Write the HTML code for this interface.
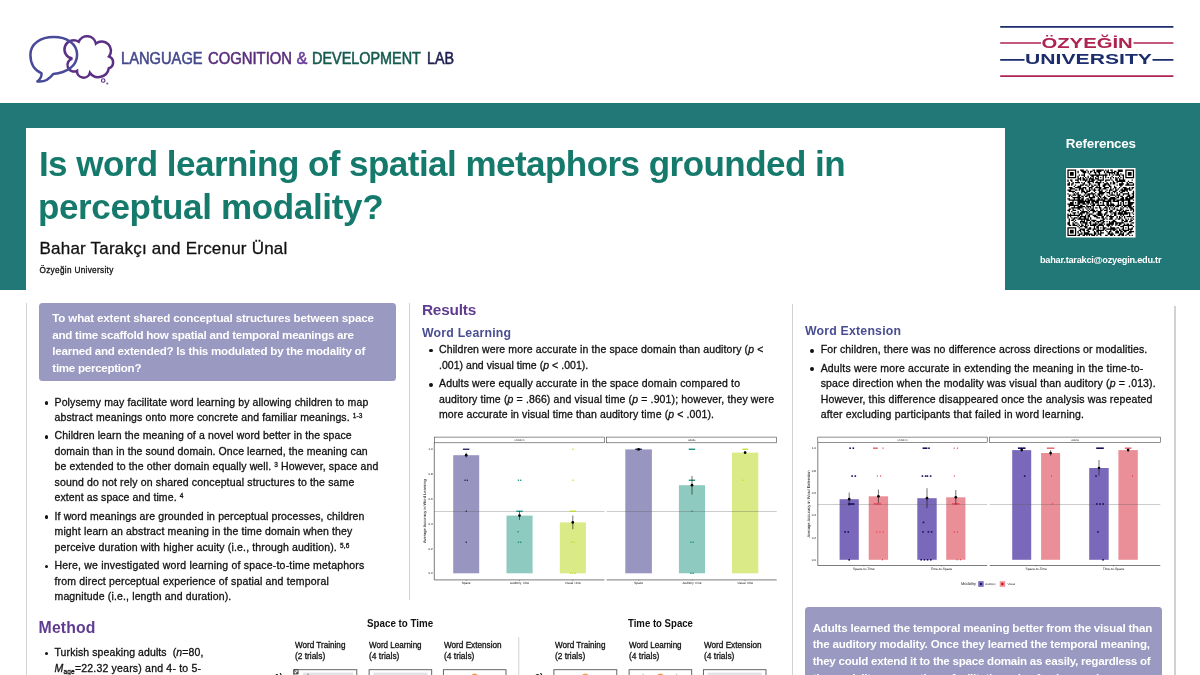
<!DOCTYPE html>
<html lang="en"><head><meta charset="utf-8"><title>Is word learning of spatial metaphors grounded in perceptual modality?</title>
<style>
html,body{margin:0;padding:0;background:#fff;}
body{width:1200px;height:675px;overflow:hidden;position:relative;font-family:"Liberation Sans",sans-serif;color:#111;}
.t{position:absolute;white-space:nowrap;margin:0;padding:0;}
.r{-webkit-text-stroke:0.3px currentColor;}
.sup{font-size:62%;position:relative;top:-0.42em;}
.sub{font-size:62%;position:relative;top:0.3em;}
.abs{position:absolute;}
#poster{position:absolute;left:0;top:0;width:1200px;height:675px;overflow:hidden;will-change:transform;}
</style></head>
<body>
<div id="poster">
<div class="abs" style="left:0;top:103px;width:1200px;height:187px;background:#217876"></div><div class="abs" style="left:25.8px;top:127.5px;width:979.5px;height:163px;background:#fff"></div><svg class="abs" style="left:0;top:0" width="130" height="100" viewBox="0 0 130 100"><path d="M72.4 58.6 A9.2 9.2 0 1 1 78.7 41.8 A9 9 0 0 1 95.9 43.6 A9.25 9.25 0 0 1 109 56.5 A6.25 6.25 0 0 1 108.8 68.3 A10.5 10.5 0 0 1 89.9 72.7 A6.55 6.55 0 0 1 77 70.8 A6.56 6.56 0 1 1 72.4 58.6 Z" fill="none" stroke="#5c2f86" stroke-width="2.5" stroke-linejoin="miter"/><circle cx="103.2" cy="80.5" r="1.75" fill="none" stroke="#5c2f86" stroke-width="1.15"/><circle cx="107.3" cy="83.5" r="1.1" fill="#5c2f86" fill-opacity="0.8"/><path d="M41.6 73.4 C33.6 69.8 30.4 62.5 30.4 54.7 C30.4 43.6 40.6 36.9 53.75 36.9 C66.9 36.9 77.1 43.6 77.1 54.7 C77.1 65.8 67 72.8 53.2 74 C49.3 79.2 45 82.6 37.3 81.4 C40.3 79.2 41.6 76.8 41.6 73.4 Z" fill="none" stroke="#4a4a9a" stroke-width="2.5" stroke-linejoin="round"/></svg><svg class="abs" style="left:990px;top:15px" width="200" height="75" viewBox="990 15 200 75"><line x1="1000.2" y1="26.9" x2="1173.4" y2="26.9" stroke="#1b2d6b" stroke-width="1.7"/><line x1="1000.2" y1="76.1" x2="1173.4" y2="76.1" stroke="#ae2350" stroke-width="1.7"/><path d="M1000.2 43H1041M1133.5 43H1173.4" stroke="#ae2350" stroke-width="1.7" fill="none"/><path d="M1000.2 59.8H1024.5M1152.5 59.8H1173.4" stroke="#1b2d6b" stroke-width="1.7" fill="none"/><text x="1041.4" y="48.1" font-family="Liberation Sans, sans-serif" font-weight="700" font-size="14" textLength="91.4" lengthAdjust="spacingAndGlyphs" fill="#ae2350">ÖZYEĞİN</text><text x="1025.1" y="64.4" font-family="Liberation Sans, sans-serif" font-weight="700" font-size="14.2" textLength="126.8" lengthAdjust="spacingAndGlyphs" fill="#1b2d6b">UNIVERSITY</text></svg><svg class="abs" style="left:1066.4px;top:168.4px" width="69.5" height="69.5" viewBox="0 0 69.5 69.5"><rect width="69.5" height="69.5" fill="#fff"/><g transform="translate(1.4,1.4) scale(1.2585)"><path d="M0 0h7v1h-7zM10 0h3v1h-3zM15 0h1v1h-1zM20 0h2v1h-2zM23 0h6v1h-6zM30 0h1v1h-1zM32 0h1v1h-1zM34 0h2v1h-2zM40 0h4v1h-4zM46 0h7v1h-7zM0 1h1v1h-1zM6 1h1v1h-1zM8 1h1v1h-1zM11 1h4v1h-4zM16 1h1v1h-1zM18 1h2v1h-2zM21 1h1v1h-1zM23 1h4v1h-4zM29 1h1v1h-1zM31 1h2v1h-2zM35 1h1v1h-1zM37 1h2v1h-2zM40 1h4v1h-4zM46 1h1v1h-1zM52 1h1v1h-1zM0 2h1v1h-1zM2 2h3v1h-3zM6 2h1v1h-1zM8 2h1v1h-1zM12 2h3v1h-3zM16 2h1v1h-1zM18 2h1v1h-1zM21 2h2v1h-2zM24 2h2v1h-2zM29 2h1v1h-1zM31 2h7v1h-7zM39 2h2v1h-2zM46 2h1v1h-1zM48 2h3v1h-3zM52 2h1v1h-1zM0 3h1v1h-1zM2 3h3v1h-3zM6 3h1v1h-1zM13 3h1v1h-1zM17 3h1v1h-1zM22 3h1v1h-1zM25 3h1v1h-1zM30 3h1v1h-1zM33 3h1v1h-1zM35 3h1v1h-1zM37 3h1v1h-1zM39 3h2v1h-2zM42 3h1v1h-1zM46 3h1v1h-1zM48 3h3v1h-3zM52 3h1v1h-1zM0 4h1v1h-1zM2 4h3v1h-3zM6 4h1v1h-1zM9 4h1v1h-1zM11 4h3v1h-3zM18 4h14v1h-14zM33 4h1v1h-1zM36 4h1v1h-1zM38 4h4v1h-4zM43 4h2v1h-2zM46 4h1v1h-1zM48 4h3v1h-3zM52 4h1v1h-1zM0 5h1v1h-1zM6 5h1v1h-1zM8 5h1v1h-1zM13 5h1v1h-1zM16 5h1v1h-1zM19 5h2v1h-2zM23 5h2v1h-2zM28 5h1v1h-1zM30 5h1v1h-1zM35 5h1v1h-1zM41 5h1v1h-1zM44 5h1v1h-1zM46 5h1v1h-1zM52 5h1v1h-1zM0 6h7v1h-7zM8 6h1v1h-1zM10 6h1v1h-1zM12 6h1v1h-1zM14 6h1v1h-1zM16 6h1v1h-1zM18 6h1v1h-1zM20 6h1v1h-1zM22 6h1v1h-1zM24 6h1v1h-1zM26 6h1v1h-1zM28 6h1v1h-1zM30 6h1v1h-1zM32 6h1v1h-1zM34 6h1v1h-1zM36 6h1v1h-1zM38 6h1v1h-1zM40 6h1v1h-1zM42 6h1v1h-1zM44 6h1v1h-1zM46 6h7v1h-7zM8 7h3v1h-3zM12 7h2v1h-2zM15 7h1v1h-1zM17 7h4v1h-4zM22 7h3v1h-3zM28 7h1v1h-1zM34 7h1v1h-1zM38 7h2v1h-2zM41 7h1v1h-1zM44 7h1v1h-1zM0 8h1v1h-1zM2 8h2v1h-2zM6 8h3v1h-3zM10 8h1v1h-1zM12 8h4v1h-4zM17 8h1v1h-1zM19 8h3v1h-3zM24 8h5v1h-5zM30 8h4v1h-4zM35 8h1v1h-1zM38 8h2v1h-2zM41 8h5v1h-5zM51 8h1v1h-1zM0 9h1v1h-1zM3 9h1v1h-1zM8 9h1v1h-1zM14 9h1v1h-1zM16 9h5v1h-5zM23 9h1v1h-1zM26 9h1v1h-1zM30 9h1v1h-1zM36 9h1v1h-1zM39 9h7v1h-7zM48 9h1v1h-1zM1 10h1v1h-1zM4 10h1v1h-1zM6 10h4v1h-4zM11 10h1v1h-1zM13 10h1v1h-1zM16 10h2v1h-2zM20 10h1v1h-1zM22 10h5v1h-5zM28 10h1v1h-1zM31 10h1v1h-1zM34 10h1v1h-1zM36 10h2v1h-2zM39 10h1v1h-1zM43 10h1v1h-1zM47 10h1v1h-1zM49 10h3v1h-3zM0 11h2v1h-2zM3 11h2v1h-2zM12 11h2v1h-2zM17 11h2v1h-2zM24 11h2v1h-2zM29 11h4v1h-4zM34 11h1v1h-1zM36 11h2v1h-2zM41 11h4v1h-4zM47 11h2v1h-2zM52 11h1v1h-1zM0 12h2v1h-2zM3 12h1v1h-1zM6 12h1v1h-1zM10 12h3v1h-3zM14 12h2v1h-2zM17 12h1v1h-1zM19 12h1v1h-1zM21 12h2v1h-2zM24 12h2v1h-2zM28 12h3v1h-3zM32 12h2v1h-2zM39 12h1v1h-1zM41 12h3v1h-3zM46 12h7v1h-7zM5 13h1v1h-1zM8 13h3v1h-3zM16 13h1v1h-1zM19 13h2v1h-2zM23 13h1v1h-1zM25 13h1v1h-1zM28 13h2v1h-2zM33 13h2v1h-2zM37 13h1v1h-1zM42 13h1v1h-1zM1 14h3v1h-3zM6 14h5v1h-5zM12 14h3v1h-3zM17 14h3v1h-3zM22 14h5v1h-5zM29 14h4v1h-4zM34 14h1v1h-1zM37 14h2v1h-2zM41 14h1v1h-1zM44 14h3v1h-3zM49 14h1v1h-1zM51 14h2v1h-2zM2 15h4v1h-4zM9 15h4v1h-4zM14 15h1v1h-1zM17 15h1v1h-1zM19 15h1v1h-1zM21 15h1v1h-1zM25 15h2v1h-2zM28 15h3v1h-3zM34 15h1v1h-1zM36 15h1v1h-1zM38 15h1v1h-1zM40 15h1v1h-1zM43 15h1v1h-1zM45 15h5v1h-5zM51 15h1v1h-1zM0 16h3v1h-3zM6 16h2v1h-2zM9 16h1v1h-1zM11 16h2v1h-2zM15 16h1v1h-1zM17 16h2v1h-2zM20 16h3v1h-3zM24 16h2v1h-2zM27 16h1v1h-1zM31 16h1v1h-1zM33 16h3v1h-3zM38 16h2v1h-2zM42 16h6v1h-6zM49 16h2v1h-2zM1 17h5v1h-5zM11 17h3v1h-3zM15 17h3v1h-3zM21 17h1v1h-1zM25 17h3v1h-3zM30 17h1v1h-1zM33 17h1v1h-1zM36 17h3v1h-3zM41 17h1v1h-1zM43 17h3v1h-3zM47 17h1v1h-1zM52 17h1v1h-1zM4 18h1v1h-1zM6 18h1v1h-1zM8 18h1v1h-1zM11 18h1v1h-1zM13 18h3v1h-3zM19 18h1v1h-1zM22 18h1v1h-1zM25 18h5v1h-5zM31 18h3v1h-3zM35 18h1v1h-1zM37 18h1v1h-1zM39 18h1v1h-1zM42 18h2v1h-2zM48 18h1v1h-1zM52 18h1v1h-1zM0 19h1v1h-1zM5 19h1v1h-1zM7 19h2v1h-2zM14 19h1v1h-1zM16 19h6v1h-6zM24 19h5v1h-5zM33 19h1v1h-1zM35 19h1v1h-1zM39 19h1v1h-1zM41 19h1v1h-1zM44 19h5v1h-5zM51 19h2v1h-2zM1 20h2v1h-2zM4 20h3v1h-3zM8 20h3v1h-3zM13 20h1v1h-1zM15 20h3v1h-3zM20 20h1v1h-1zM22 20h1v1h-1zM24 20h2v1h-2zM27 20h1v1h-1zM31 20h1v1h-1zM34 20h4v1h-4zM39 20h3v1h-3zM44 20h1v1h-1zM48 20h2v1h-2zM52 20h1v1h-1zM1 21h1v1h-1zM3 21h1v1h-1zM8 21h2v1h-2zM11 21h2v1h-2zM14 21h2v1h-2zM17 21h1v1h-1zM20 21h2v1h-2zM23 21h1v1h-1zM25 21h2v1h-2zM29 21h1v1h-1zM32 21h2v1h-2zM38 21h1v1h-1zM40 21h1v1h-1zM42 21h2v1h-2zM47 21h3v1h-3zM51 21h2v1h-2zM4 22h7v1h-7zM12 22h1v1h-1zM17 22h5v1h-5zM24 22h1v1h-1zM26 22h1v1h-1zM28 22h3v1h-3zM34 22h4v1h-4zM39 22h2v1h-2zM43 22h2v1h-2zM46 22h2v1h-2zM49 22h4v1h-4zM0 23h2v1h-2zM5 23h1v1h-1zM8 23h2v1h-2zM11 23h2v1h-2zM15 23h2v1h-2zM18 23h2v1h-2zM24 23h2v1h-2zM27 23h1v1h-1zM29 23h3v1h-3zM33 23h6v1h-6zM42 23h3v1h-3zM46 23h6v1h-6zM1 24h12v1h-12zM14 24h1v1h-1zM16 24h6v1h-6zM23 24h7v1h-7zM32 24h3v1h-3zM36 24h2v1h-2zM39 24h11v1h-11zM52 24h1v1h-1zM4 25h1v1h-1zM8 25h10v1h-10zM19 25h6v1h-6zM28 25h7v1h-7zM36 25h5v1h-5zM43 25h2v1h-2zM48 25h2v1h-2zM2 26h3v1h-3zM6 26h1v1h-1zM8 26h6v1h-6zM15 26h3v1h-3zM19 26h2v1h-2zM22 26h3v1h-3zM26 26h1v1h-1zM28 26h1v1h-1zM31 26h2v1h-2zM34 26h1v1h-1zM40 26h1v1h-1zM42 26h1v1h-1zM44 26h1v1h-1zM46 26h1v1h-1zM48 26h5v1h-5zM0 27h5v1h-5zM8 27h2v1h-2zM12 27h3v1h-3zM16 27h1v1h-1zM18 27h1v1h-1zM20 27h2v1h-2zM24 27h1v1h-1zM28 27h1v1h-1zM31 27h2v1h-2zM34 27h3v1h-3zM40 27h1v1h-1zM42 27h1v1h-1zM44 27h1v1h-1zM48 27h4v1h-4zM1 28h8v1h-8zM10 28h2v1h-2zM15 28h1v1h-1zM19 28h3v1h-3zM23 28h7v1h-7zM31 28h7v1h-7zM39 28h4v1h-4zM44 28h7v1h-7zM1 29h1v1h-1zM5 29h1v1h-1zM8 29h6v1h-6zM15 29h4v1h-4zM20 29h1v1h-1zM25 29h1v1h-1zM30 29h1v1h-1zM32 29h1v1h-1zM34 29h1v1h-1zM36 29h1v1h-1zM38 29h3v1h-3zM43 29h1v1h-1zM45 29h2v1h-2zM48 29h3v1h-3zM52 29h1v1h-1zM3 30h9v1h-9zM14 30h1v1h-1zM16 30h1v1h-1zM18 30h1v1h-1zM20 30h1v1h-1zM22 30h2v1h-2zM25 30h2v1h-2zM29 30h3v1h-3zM33 30h1v1h-1zM35 30h1v1h-1zM37 30h1v1h-1zM42 30h1v1h-1zM44 30h1v1h-1zM47 30h1v1h-1zM49 30h3v1h-3zM1 31h2v1h-2zM4 31h1v1h-1zM8 31h2v1h-2zM12 31h1v1h-1zM15 31h1v1h-1zM17 31h1v1h-1zM19 31h2v1h-2zM26 31h1v1h-1zM28 31h1v1h-1zM31 31h1v1h-1zM33 31h1v1h-1zM36 31h2v1h-2zM39 31h1v1h-1zM42 31h2v1h-2zM50 31h3v1h-3zM0 32h2v1h-2zM4 32h3v1h-3zM10 32h1v1h-1zM12 32h1v1h-1zM16 32h1v1h-1zM18 32h4v1h-4zM23 32h1v1h-1zM26 32h2v1h-2zM29 32h3v1h-3zM34 32h2v1h-2zM39 32h4v1h-4zM44 32h1v1h-1zM46 32h3v1h-3zM50 32h1v1h-1zM52 32h1v1h-1zM1 33h1v1h-1zM3 33h1v1h-1zM8 33h1v1h-1zM11 33h5v1h-5zM17 33h1v1h-1zM20 33h3v1h-3zM24 33h3v1h-3zM31 33h1v1h-1zM33 33h3v1h-3zM38 33h1v1h-1zM41 33h1v1h-1zM43 33h4v1h-4zM52 33h1v1h-1zM4 34h3v1h-3zM8 34h1v1h-1zM10 34h4v1h-4zM15 34h2v1h-2zM20 34h1v1h-1zM24 34h3v1h-3zM30 34h2v1h-2zM34 34h1v1h-1zM36 34h3v1h-3zM40 34h4v1h-4zM45 34h5v1h-5zM51 34h1v1h-1zM0 35h1v1h-1zM2 35h1v1h-1zM5 35h1v1h-1zM9 35h3v1h-3zM15 35h1v1h-1zM17 35h3v1h-3zM23 35h5v1h-5zM29 35h2v1h-2zM35 35h1v1h-1zM37 35h2v1h-2zM40 35h8v1h-8zM49 35h1v1h-1zM52 35h1v1h-1zM0 36h10v1h-10zM11 36h1v1h-1zM14 36h1v1h-1zM16 36h2v1h-2zM20 36h3v1h-3zM24 36h4v1h-4zM29 36h1v1h-1zM31 36h2v1h-2zM34 36h1v1h-1zM37 36h2v1h-2zM42 36h1v1h-1zM44 36h1v1h-1zM49 36h1v1h-1zM0 37h1v1h-1zM2 37h1v1h-1zM8 37h1v1h-1zM10 37h5v1h-5zM16 37h2v1h-2zM21 37h3v1h-3zM27 37h2v1h-2zM31 37h1v1h-1zM33 37h4v1h-4zM39 37h1v1h-1zM41 37h1v1h-1zM43 37h1v1h-1zM45 37h1v1h-1zM47 37h4v1h-4zM52 37h1v1h-1zM0 38h1v1h-1zM3 38h1v1h-1zM5 38h3v1h-3zM9 38h2v1h-2zM13 38h2v1h-2zM16 38h1v1h-1zM18 38h1v1h-1zM23 38h3v1h-3zM27 38h2v1h-2zM30 38h1v1h-1zM34 38h2v1h-2zM39 38h1v1h-1zM41 38h2v1h-2zM45 38h1v1h-1zM51 38h1v1h-1zM1 39h1v1h-1zM4 39h2v1h-2zM8 39h9v1h-9zM18 39h1v1h-1zM28 39h2v1h-2zM31 39h1v1h-1zM33 39h3v1h-3zM38 39h1v1h-1zM40 39h2v1h-2zM43 39h1v1h-1zM46 39h1v1h-1zM48 39h1v1h-1zM50 39h1v1h-1zM52 39h1v1h-1zM1 40h1v1h-1zM3 40h2v1h-2zM6 40h1v1h-1zM11 40h1v1h-1zM13 40h1v1h-1zM15 40h3v1h-3zM19 40h4v1h-4zM26 40h3v1h-3zM36 40h2v1h-2zM43 40h2v1h-2zM46 40h2v1h-2zM50 40h2v1h-2zM1 41h1v1h-1zM5 41h1v1h-1zM10 41h4v1h-4zM15 41h1v1h-1zM18 41h1v1h-1zM20 41h2v1h-2zM23 41h4v1h-4zM28 41h2v1h-2zM31 41h1v1h-1zM33 41h1v1h-1zM35 41h4v1h-4zM43 41h1v1h-1zM45 41h3v1h-3zM49 41h2v1h-2zM0 42h2v1h-2zM4 42h1v1h-1zM6 42h2v1h-2zM10 42h1v1h-1zM12 42h4v1h-4zM17 42h2v1h-2zM22 42h1v1h-1zM24 42h1v1h-1zM27 42h2v1h-2zM33 42h4v1h-4zM38 42h7v1h-7zM51 42h2v1h-2zM0 43h2v1h-2zM4 43h2v1h-2zM8 43h1v1h-1zM11 43h1v1h-1zM14 43h2v1h-2zM18 43h1v1h-1zM20 43h4v1h-4zM25 43h3v1h-3zM29 43h1v1h-1zM31 43h6v1h-6zM38 43h2v1h-2zM41 43h2v1h-2zM45 43h1v1h-1zM47 43h2v1h-2zM50 43h1v1h-1zM1 44h2v1h-2zM4 44h4v1h-4zM9 44h1v1h-1zM11 44h2v1h-2zM14 44h1v1h-1zM16 44h1v1h-1zM18 44h5v1h-5zM24 44h5v1h-5zM31 44h3v1h-3zM35 44h1v1h-1zM38 44h1v1h-1zM40 44h2v1h-2zM44 44h8v1h-8zM8 45h1v1h-1zM10 45h2v1h-2zM13 45h3v1h-3zM21 45h1v1h-1zM23 45h2v1h-2zM28 45h1v1h-1zM32 45h1v1h-1zM34 45h1v1h-1zM42 45h3v1h-3zM48 45h1v1h-1zM52 45h1v1h-1zM0 46h7v1h-7zM9 46h1v1h-1zM14 46h2v1h-2zM17 46h2v1h-2zM21 46h1v1h-1zM23 46h2v1h-2zM26 46h1v1h-1zM28 46h3v1h-3zM34 46h4v1h-4zM39 46h2v1h-2zM44 46h1v1h-1zM46 46h1v1h-1zM48 46h1v1h-1zM51 46h1v1h-1zM0 47h1v1h-1zM6 47h1v1h-1zM10 47h4v1h-4zM16 47h3v1h-3zM20 47h3v1h-3zM24 47h1v1h-1zM28 47h2v1h-2zM31 47h8v1h-8zM41 47h1v1h-1zM43 47h2v1h-2zM48 47h4v1h-4zM0 48h1v1h-1zM2 48h3v1h-3zM6 48h1v1h-1zM9 48h2v1h-2zM12 48h2v1h-2zM15 48h2v1h-2zM20 48h1v1h-1zM23 48h6v1h-6zM30 48h1v1h-1zM34 48h1v1h-1zM36 48h2v1h-2zM39 48h1v1h-1zM41 48h2v1h-2zM44 48h5v1h-5zM50 48h1v1h-1zM0 49h1v1h-1zM2 49h3v1h-3zM6 49h1v1h-1zM8 49h1v1h-1zM10 49h1v1h-1zM13 49h1v1h-1zM16 49h2v1h-2zM21 49h1v1h-1zM23 49h2v1h-2zM26 49h1v1h-1zM31 49h1v1h-1zM33 49h2v1h-2zM38 49h3v1h-3zM42 49h2v1h-2zM45 49h2v1h-2zM49 49h4v1h-4zM0 50h1v1h-1zM2 50h3v1h-3zM6 50h1v1h-1zM8 50h1v1h-1zM11 50h1v1h-1zM13 50h4v1h-4zM21 50h2v1h-2zM24 50h1v1h-1zM26 50h3v1h-3zM32 50h2v1h-2zM35 50h1v1h-1zM38 50h3v1h-3zM42 50h1v1h-1zM44 50h1v1h-1zM48 50h3v1h-3zM0 51h1v1h-1zM6 51h1v1h-1zM9 51h3v1h-3zM13 51h7v1h-7zM21 51h2v1h-2zM24 51h3v1h-3zM32 51h5v1h-5zM41 51h4v1h-4zM47 51h2v1h-2zM0 52h7v1h-7zM8 52h2v1h-2zM12 52h2v1h-2zM15 52h1v1h-1zM17 52h1v1h-1zM19 52h3v1h-3zM23 52h1v1h-1zM26 52h1v1h-1zM30 52h2v1h-2zM34 52h2v1h-2zM37 52h1v1h-1zM40 52h2v1h-2zM43 52h2v1h-2zM46 52h1v1h-1zM49 52h1v1h-1zM51 52h1v1h-1z" fill="#000"/></g></svg><div class="abs" style="left:25.75px;top:303px;width:1.3px;height:372px;background:#d2d2d2"></div><div class="abs" style="left:408.55px;top:303px;width:1.3px;height:297px;background:#d2d2d2"></div><div class="abs" style="left:791.85px;top:304px;width:1.3px;height:371px;background:#d2d2d2"></div><div class="abs" style="left:1174.25px;top:306px;width:1.3px;height:369px;background:#d2d2d2"></div><div class="abs" style="left:39px;top:303.3px;width:357px;height:77.8px;background:#9999c1;border-radius:3.5px"></div><div class="abs" style="left:805px;top:607.3px;width:356.7px;height:90px;background:#9999c1;border-radius:3.5px"></div><svg class="abs" style="left:418px;top:430px" width="372" height="162" viewBox="418 430 372 162" font-family="Liberation Sans, sans-serif" text-rendering="geometricPrecision"><rect x="434.3" y="437.1" width="170.1" height="5.7" fill="#fff" stroke="#333" stroke-width="0.55"/><text x="519.4" y="441" font-size="2.7" text-anchor="middle" fill="#222">Children</text><rect x="606.6" y="437.1" width="170.1" height="5.7" fill="#fff" stroke="#333" stroke-width="0.55"/><text x="691.7" y="441" font-size="2.7" text-anchor="middle" fill="#222">Adults</text><rect x="453.2" y="455.2" width="26.0" height="118.1" fill="#9896c0"/><rect x="506.5" y="515.6" width="26.1" height="57.7" fill="#8ecabf"/><rect x="559.8" y="522.4" width="26.1" height="50.9" fill="#d9ea86"/><rect x="625.3" y="449.4" width="26.6" height="123.9" fill="#9896c0"/><rect x="678.9" y="485.2" width="26.1" height="88.1" fill="#8ecabf"/><rect x="732.0" y="452.6" width="26.3" height="120.7" fill="#d9ea86"/><rect x="434.3" y="511" width="170.1" height="1" fill="#555" fill-opacity="0.3"/><rect x="606.6" y="511" width="170.1" height="1" fill="#555" fill-opacity="0.3"/><path d="M434.3 442.8V579.9H604.4M606.6 579.9H776.7" fill="none" stroke="#444" stroke-width="0.7"/><rect x="462.9" y="448.6" width="6.5" height="1.3" fill="#1c1a5c"/><rect x="464.4" y="479.6" width="1.3" height="1.3" fill="#1c1a5c"/><rect x="466.7" y="479.6" width="1.3" height="1.3" fill="#1c1a5c"/><rect x="465.6" y="510.6" width="1.3" height="1.3" fill="#1c1a5c"/><rect x="465.6" y="541.6" width="1.3" height="1.3" fill="#1c1a5c"/><rect x="517.8" y="479.6" width="1.3" height="1.3" fill="#128a7a"/><rect x="520.0" y="479.6" width="1.3" height="1.3" fill="#128a7a"/><rect x="516.3" y="510.6" width="6.5" height="1.3" fill="#128a7a"/><rect x="517.4" y="531.1" width="1.3" height="1.3" fill="#128a7a"/><rect x="517.8" y="541.6" width="1.3" height="1.3" fill="#128a7a"/><rect x="520.0" y="541.6" width="1.3" height="1.3" fill="#128a7a"/><rect x="572.2" y="448.6" width="1.3" height="1.3" fill="#c4da2a"/><rect x="572.2" y="479.6" width="1.3" height="1.3" fill="#c4da2a"/><rect x="569.6" y="510.6" width="6.5" height="1.3" fill="#c4da2a"/><rect x="571.0" y="541.6" width="1.3" height="1.3" fill="#c4da2a"/><rect x="573.3" y="541.6" width="1.3" height="1.3" fill="#c4da2a"/><rect x="569.9" y="572.6" width="1.3" height="1.3" fill="#c4da2a"/><rect x="572.2" y="572.6" width="1.3" height="1.3" fill="#c4da2a"/><rect x="574.5" y="572.6" width="1.3" height="1.3" fill="#c4da2a"/><rect x="635.3" y="448.6" width="6.5" height="1.3" fill="#1c1a5c"/><rect x="688.7" y="448.6" width="6.5" height="1.3" fill="#128a7a"/><rect x="688.7" y="479.6" width="6.5" height="1.3" fill="#128a7a"/><rect x="691.3" y="510.6" width="1.3" height="1.3" fill="#128a7a"/><rect x="690.2" y="541.6" width="1.3" height="1.3" fill="#128a7a"/><rect x="692.5" y="541.6" width="1.3" height="1.3" fill="#128a7a"/><rect x="690.2" y="572.6" width="1.3" height="1.3" fill="#128a7a"/><rect x="692.5" y="572.6" width="1.3" height="1.3" fill="#128a7a"/><rect x="742.3" y="448.6" width="5.7" height="1.3" fill="#c4da2a"/><rect x="742.0" y="479.6" width="1.3" height="1.3" fill="#c4da2a"/><line x1="466.2" y1="452.7" x2="466.2" y2="457.6" stroke="#111" stroke-width="0.6"/><circle cx="466.2" cy="455.2" r="1.35" fill="#000"/><line x1="519.5" y1="511.2" x2="519.5" y2="519.9" stroke="#111" stroke-width="0.6"/><circle cx="519.5" cy="515.6" r="1.35" fill="#000"/><line x1="572.8" y1="515.6" x2="572.8" y2="529.2" stroke="#111" stroke-width="0.6"/><circle cx="572.8" cy="522.4" r="1.35" fill="#000"/><line x1="638.6" y1="449.0" x2="638.6" y2="449.9" stroke="#111" stroke-width="0.6"/><circle cx="638.6" cy="449.4" r="1.35" fill="#000"/><line x1="692.0" y1="475.9" x2="692.0" y2="494.5" stroke="#111" stroke-width="0.6"/><circle cx="692.0" cy="485.2" r="1.35" fill="#000"/><line x1="745.1" y1="451.1" x2="745.1" y2="454.0" stroke="#111" stroke-width="0.6"/><circle cx="745.1" cy="452.6" r="1.35" fill="#000"/><text x="432.6" y="574.3" font-size="3" text-anchor="end" fill="#111">0.0</text><text x="432.6" y="549.5" font-size="3" text-anchor="end" fill="#111">0.2</text><text x="432.6" y="524.7" font-size="3" text-anchor="end" fill="#111">0.4</text><text x="432.6" y="499.8" font-size="3" text-anchor="end" fill="#111">0.6</text><text x="432.6" y="475.0" font-size="3" text-anchor="end" fill="#111">0.8</text><text x="432.6" y="450.2" font-size="3" text-anchor="end" fill="#111">1.0</text><line x1="466.2" y1="579.9" x2="466.2" y2="580.9" stroke="#333" stroke-width="0.4"/><text x="466.2" y="583.9" font-size="3.1" text-anchor="middle" fill="#111">Space</text><line x1="519.5" y1="579.9" x2="519.5" y2="580.9" stroke="#333" stroke-width="0.4"/><text x="519.5" y="583.9" font-size="3.1" text-anchor="middle" fill="#111">Auditory Time</text><line x1="572.8" y1="579.9" x2="572.8" y2="580.9" stroke="#333" stroke-width="0.4"/><text x="572.8" y="583.9" font-size="3.1" text-anchor="middle" fill="#111">Visual Time</text><line x1="638.6" y1="579.9" x2="638.6" y2="580.9" stroke="#333" stroke-width="0.4"/><text x="638.6" y="583.9" font-size="3.1" text-anchor="middle" fill="#111">Space</text><line x1="692.0" y1="579.9" x2="692.0" y2="580.9" stroke="#333" stroke-width="0.4"/><text x="692.0" y="583.9" font-size="3.1" text-anchor="middle" fill="#111">Auditory Time</text><line x1="745.1" y1="579.9" x2="745.1" y2="580.9" stroke="#333" stroke-width="0.4"/><text x="745.1" y="583.9" font-size="3.1" text-anchor="middle" fill="#111">Visual Time</text><text transform="translate(426 511.2) rotate(-90)" font-size="4" text-anchor="middle" fill="#000">Average Accuracy in Word Learning</text></svg><svg class="abs" style="left:798px;top:430px" width="374" height="165" viewBox="798 430 374 165" font-family="Liberation Sans, sans-serif" text-rendering="geometricPrecision"><rect x="817.8" y="437.1" width="169.4" height="5.3" fill="#fff" stroke="#333" stroke-width="0.55"/><text x="902.5" y="440.8" font-size="2.7" text-anchor="middle" fill="#222">Children</text><rect x="989.7" y="437.1" width="170.6" height="5.3" fill="#fff" stroke="#333" stroke-width="0.55"/><text x="1075.0" y="440.8" font-size="2.7" text-anchor="middle" fill="#222">Adults</text><rect x="839.6" y="499.2" width="19.2" height="60.6" fill="#7a69bb"/><rect x="868.7" y="496.3" width="19.4" height="63.5" fill="#ea8f97"/><rect x="917.3" y="498.2" width="19.4" height="61.6" fill="#7a69bb"/><rect x="946.2" y="497.3" width="19.2" height="62.5" fill="#ea8f97"/><rect x="1012.2" y="450.1" width="19.0" height="109.7" fill="#7a69bb"/><rect x="1041.1" y="453.0" width="19.0" height="106.8" fill="#ea8f97"/><rect x="1089.2" y="468.0" width="19.5" height="91.8" fill="#7a69bb"/><rect x="1118.4" y="450.1" width="19.4" height="109.7" fill="#ea8f97"/><rect x="817.8" y="504" width="169.4" height="1" fill="#555" fill-opacity="0.3"/><rect x="989.7" y="504" width="170.6" height="1" fill="#555" fill-opacity="0.3"/><path d="M817.8 442.4V565.5H987.2M989.7 565.5H1160.3" fill="none" stroke="#444" stroke-width="0.7"/><rect x="849.3" y="447.4" width="1.6" height="1.6" fill="#16105e"/><rect x="852.5" y="447.4" width="1.6" height="1.6" fill="#16105e"/><rect x="851.3" y="475.3" width="1.6" height="1.6" fill="#16105e"/><rect x="854.5" y="475.3" width="1.6" height="1.6" fill="#16105e"/><rect x="847.9" y="503.2" width="6.6" height="1.6" fill="#16105e"/><rect x="844.3" y="531.1" width="1.6" height="1.6" fill="#16105e"/><rect x="847.5" y="531.1" width="1.6" height="1.6" fill="#16105e"/><rect x="848.4" y="559.0" width="1.6" height="1.6" fill="#16105e"/><rect x="873.0" y="447.6" width="4.8" height="1.1" fill="#e0303c"/><rect x="882.4" y="447.6" width="1.1" height="1.1" fill="#e0303c"/><rect x="876.8" y="475.5" width="1.1" height="1.1" fill="#e0303c"/><rect x="880.0" y="475.5" width="1.1" height="1.1" fill="#e0303c"/><rect x="873.6" y="503.4" width="7.6" height="1.1" fill="#e0303c"/><rect x="876.2" y="531.4" width="1.1" height="1.1" fill="#e0303c"/><rect x="879.4" y="531.4" width="1.1" height="1.1" fill="#e0303c"/><rect x="882.6" y="531.4" width="1.1" height="1.1" fill="#e0303c"/><rect x="881.9" y="559.2" width="1.1" height="1.1" fill="#e0303c"/><rect x="922.6" y="447.4" width="4.8" height="1.6" fill="#16105e"/><rect x="928.2" y="447.4" width="1.6" height="1.6" fill="#16105e"/><rect x="921.6" y="475.3" width="1.6" height="1.6" fill="#16105e"/><rect x="924.8" y="475.3" width="1.6" height="1.6" fill="#16105e"/><rect x="926.6" y="475.3" width="1.6" height="1.6" fill="#16105e"/><rect x="929.8" y="475.3" width="1.6" height="1.6" fill="#16105e"/><rect x="922.7" y="521.6" width="1.6" height="1.6" fill="#16105e"/><rect x="922.2" y="531.1" width="1.6" height="1.6" fill="#16105e"/><rect x="927.6" y="531.1" width="1.6" height="1.6" fill="#16105e"/><rect x="930.8" y="531.1" width="1.6" height="1.6" fill="#16105e"/><rect x="920.4" y="559.0" width="1.6" height="1.6" fill="#16105e"/><rect x="923.6" y="559.0" width="1.6" height="1.6" fill="#16105e"/><rect x="926.8" y="559.0" width="1.6" height="1.6" fill="#16105e"/><rect x="930.0" y="559.0" width="1.6" height="1.6" fill="#16105e"/><rect x="953.6" y="447.6" width="1.1" height="1.1" fill="#e0303c"/><rect x="956.9" y="447.6" width="1.1" height="1.1" fill="#e0303c"/><rect x="953.8" y="475.5" width="1.1" height="1.1" fill="#e0303c"/><rect x="952.0" y="503.4" width="7.6" height="1.1" fill="#e0303c"/><rect x="953.6" y="531.4" width="1.1" height="1.1" fill="#e0303c"/><rect x="956.9" y="531.4" width="1.1" height="1.1" fill="#e0303c"/><rect x="956.6" y="559.2" width="1.1" height="1.1" fill="#e0303c"/><rect x="959.9" y="559.2" width="1.1" height="1.1" fill="#e0303c"/><rect x="1017.9" y="447.4" width="7.6" height="1.6" fill="#16105e"/><rect x="1023.9" y="475.3" width="1.6" height="1.6" fill="#16105e"/><rect x="1046.8" y="447.6" width="7.6" height="1.1" fill="#e0303c"/><rect x="1051.0" y="475.5" width="1.1" height="1.1" fill="#e0303c"/><rect x="1052.0" y="503.4" width="1.1" height="1.1" fill="#e0303c"/><rect x="1096.2" y="447.4" width="7.6" height="1.6" fill="#16105e"/><rect x="1095.2" y="475.3" width="1.6" height="1.6" fill="#16105e"/><rect x="1096.0" y="503.2" width="1.6" height="1.6" fill="#16105e"/><rect x="1099.2" y="503.2" width="1.6" height="1.6" fill="#16105e"/><rect x="1102.4" y="503.2" width="1.6" height="1.6" fill="#16105e"/><rect x="1097.2" y="531.1" width="1.6" height="1.6" fill="#16105e"/><rect x="1102.2" y="559.0" width="1.6" height="1.6" fill="#16105e"/><rect x="1124.8" y="447.6" width="6.6" height="1.1" fill="#e0303c"/><rect x="1132.0" y="475.5" width="1.1" height="1.1" fill="#e0303c"/><line x1="849.2" y1="492.5" x2="849.2" y2="505.9" stroke="#111" stroke-width="0.6"/><circle cx="849.2" cy="499.2" r="1.35" fill="#000"/><line x1="878.4" y1="489.6" x2="878.4" y2="503.0" stroke="#111" stroke-width="0.6"/><circle cx="878.4" cy="496.3" r="1.35" fill="#000"/><line x1="927.0" y1="488.2" x2="927.0" y2="508.2" stroke="#111" stroke-width="0.6"/><circle cx="927.0" cy="498.2" r="1.35" fill="#000"/><line x1="955.8" y1="490.0" x2="955.8" y2="504.6" stroke="#111" stroke-width="0.6"/><circle cx="955.8" cy="497.3" r="1.35" fill="#000"/><line x1="1021.7" y1="448.8" x2="1021.7" y2="451.4" stroke="#111" stroke-width="0.6"/><circle cx="1021.7" cy="450.1" r="1.35" fill="#000"/><line x1="1050.6" y1="450.2" x2="1050.6" y2="455.8" stroke="#111" stroke-width="0.6"/><circle cx="1050.6" cy="453.0" r="1.35" fill="#000"/><line x1="1099.0" y1="460.1" x2="1099.0" y2="475.8" stroke="#111" stroke-width="0.6"/><circle cx="1099.0" cy="468.0" r="1.35" fill="#000"/><line x1="1128.1" y1="448.8" x2="1128.1" y2="451.4" stroke="#111" stroke-width="0.6"/><circle cx="1128.1" cy="450.1" r="1.35" fill="#000"/><text x="816" y="560.8" font-size="3" text-anchor="end" fill="#111">0.0</text><text x="816" y="538.5" font-size="3" text-anchor="end" fill="#111">0.2</text><text x="816" y="516.2" font-size="3" text-anchor="end" fill="#111">0.4</text><text x="816" y="493.8" font-size="3" text-anchor="end" fill="#111">0.6</text><text x="816" y="471.5" font-size="3" text-anchor="end" fill="#111">0.8</text><text x="816" y="449.2" font-size="3" text-anchor="end" fill="#111">1.0</text><line x1="863.8" y1="565.5" x2="863.8" y2="566.5" stroke="#333" stroke-width="0.4"/><text x="863.8" y="569.5" font-size="3.3" text-anchor="middle" fill="#111">Space-to-Time</text><line x1="941.4" y1="565.5" x2="941.4" y2="566.5" stroke="#333" stroke-width="0.4"/><text x="941.4" y="569.5" font-size="3.3" text-anchor="middle" fill="#111">Time-to-Space</text><line x1="1036.2" y1="565.5" x2="1036.2" y2="566.5" stroke="#333" stroke-width="0.4"/><text x="1036.2" y="569.5" font-size="3.3" text-anchor="middle" fill="#111">Space-to-Time</text><line x1="1113.5" y1="565.5" x2="1113.5" y2="566.5" stroke="#333" stroke-width="0.4"/><text x="1113.5" y="569.5" font-size="3.3" text-anchor="middle" fill="#111">Time-to-Space</text><text transform="translate(809.6 504.0) rotate(-90)" font-size="4.1" text-anchor="middle" fill="#000">Average Accuracy in Word Extension</text><text x="961" y="585.4" font-size="4" fill="#222">Modality</text><rect x="978.2" y="581.2" width="5.5" height="5.6" fill="#7a69bb"/><rect x="980" y="583.1" width="1.8" height="1.8" fill="#0a0840"/><text x="985.3" y="585" font-size="2.8" fill="#222">Auditory</text><rect x="999.7" y="581.2" width="5.5" height="5.6" fill="#ea8f97"/><circle cx="1002.4" cy="584" r="1.2" fill="#c4101c"/><text x="1007.5" y="585" font-size="2.8" fill="#222">Visual</text></svg><svg class="abs" style="left:260px;top:630px" width="540" height="45" viewBox="260 630 540 45"><line x1="518.8" y1="637" x2="518.8" y2="675" stroke="#c8c8c8" stroke-width="0.8"/><rect x="293.9" y="669.7" width="62.9" height="12" fill="#fff" stroke="#555" stroke-width="0.9"/><rect x="302.9" y="672.6" width="50.4" height="6" fill="#e3e3e6"/><path d="M293.9 669.7h4.2v4.2h-4.2zM294.5 670.3l3 3M297.7 671.6v2h-2" fill="none" stroke="#222" stroke-width="0.7"/><rect x="307.4" y="673.6" width="1.2" height="1.5" fill="#888"/><rect x="369.1" y="669.7" width="62.6" height="12" fill="#fff" stroke="#555" stroke-width="0.9"/><rect x="373.40000000000003" y="672.6" width="54.0" height="6" fill="#e3e3e6"/><rect x="443.4" y="669.7" width="62.6" height="12" fill="#fff" stroke="#555" stroke-width="0.9"/><circle cx="474.7" cy="677" r="3.6" fill="#f0a050"/><rect x="553.9" y="669.7" width="62.9" height="12" fill="#fff" stroke="#555" stroke-width="0.9"/><circle cx="585.3" cy="677" r="3.6" fill="#f0a050"/><rect x="629.1" y="669.7" width="62.6" height="12" fill="#fff" stroke="#555" stroke-width="0.9"/><circle cx="660.4" cy="677" r="3.6" fill="#f0a050"/><rect x="642.4" y="673.8" width="1.2" height="1.4" fill="#bbb"/><rect x="676.0" y="673.8" width="1.2" height="1.4" fill="#bbb"/><rect x="703.4" y="669.7" width="62.6" height="12" fill="#fff" stroke="#555" stroke-width="0.9"/><rect x="707.6999999999999" y="672.6" width="54.0" height="6" fill="#e3e3e6"/></svg><div class="abs" style="left:44.50px;top:401.00px;width:3.8px;height:3.8px;border-radius:50%;background:#111"></div><div class="abs" style="left:44.50px;top:434.80px;width:3.8px;height:3.8px;border-radius:50%;background:#111"></div><div class="abs" style="left:44.50px;top:515.20px;width:3.8px;height:3.8px;border-radius:50%;background:#111"></div><div class="abs" style="left:44.50px;top:564.70px;width:3.8px;height:3.8px;border-radius:50%;background:#111"></div><div class="abs" style="left:44.50px;top:651.60px;width:3.8px;height:3.8px;border-radius:50%;background:#111"></div><div class="abs" style="left:429.00px;top:348.60px;width:3.8px;height:3.8px;border-radius:50%;background:#111"></div><div class="abs" style="left:429.00px;top:382.80px;width:3.8px;height:3.8px;border-radius:50%;background:#111"></div><div class="abs" style="left:810.30px;top:348.80px;width:3.8px;height:3.8px;border-radius:50%;background:#111"></div><div class="abs" style="left:810.30px;top:367.30px;width:3.8px;height:3.8px;border-radius:50%;background:#111"></div>
<div class="t" style="left:121.40px;top:49px;font-size:16.3px;line-height:18px;color:#45488c;transform:scaleX(0.9018);transform-origin:0 0;-webkit-text-stroke:0.55px currentColor;">LANGUAGE</div>
<div class="t" style="left:207.50px;top:49px;font-size:16.3px;line-height:18px;color:#5a2d7c;transform:scaleX(0.9104);transform-origin:0 0;-webkit-text-stroke:0.55px currentColor;">COGNITION</div>
<div class="t" style="left:296.60px;top:49px;font-size:16.3px;line-height:18px;color:#6a3fa0;-webkit-text-stroke:0.55px currentColor;">&amp;</div>
<div class="t" style="left:311.60px;top:49px;font-size:16.3px;line-height:18px;color:#155a4e;transform:scaleX(0.8850);transform-origin:0 0;-webkit-text-stroke:0.55px currentColor;">DEVELOPMENT</div>
<div class="t" style="left:426.50px;top:49px;font-size:16.3px;line-height:18px;color:#1f1f4f;transform:scaleX(0.8772);transform-origin:0 0;-webkit-text-stroke:0.55px currentColor;">LAB</div>
<div class="t" style="left:38.90px;top:144px;font-size:35px;line-height:39px;font-weight:700;color:#157a6c;letter-spacing:-0.534px;">Is word learning of spatial metaphors grounded in</div>
<div class="t" style="left:37.90px;top:187px;font-size:35px;line-height:39px;font-weight:700;color:#157a6c;letter-spacing:-0.333px;">perceptual modality?</div>
<div class="t r" style="left:39.50px;top:239px;font-size:17px;line-height:19px;letter-spacing:0.213px;">Bahar Tarakçı and Ercenur Ünal</div>
<div class="t r" style="left:39.50px;top:266px;font-size:8.2px;line-height:9px;letter-spacing:0.326px;">Özyeğin University</div>
<div class="t" style="left:1065.80px;top:136px;font-size:13.4px;line-height:15px;font-weight:700;color:#fff;letter-spacing:-0.224px;">References</div>
<div class="t" style="left:1040.00px;top:255px;font-size:9.2px;line-height:10px;font-weight:700;color:#fff;letter-spacing:-0.238px;">bahar.tarakci@ozyegin.edu.tr</div>
<div class="t" style="left:52.30px;top:311px;font-size:11.6px;line-height:13px;font-weight:700;color:#fff;letter-spacing:-0.177px;">To what extent shared conceptual structures between space</div>
<div class="t" style="left:52.30px;top:328px;font-size:11.6px;line-height:13px;font-weight:700;color:#fff;letter-spacing:-0.259px;">and time scaffold how spatial and temporal meanings are</div>
<div class="t" style="left:52.30px;top:344px;font-size:11.6px;line-height:13px;font-weight:700;color:#fff;letter-spacing:-0.250px;">learned and extended? Is this modulated by the modality of</div>
<div class="t" style="left:52.30px;top:361px;font-size:11.6px;line-height:13px;font-weight:700;color:#fff;letter-spacing:-0.281px;">time perception?</div>
<div class="t r" style="left:54.50px;top:396px;font-size:10.5px;line-height:12px;letter-spacing:0.134px;">Polysemy may facilitate word learning by allowing children to map</div>
<div class="t r" style="left:54.50px;top:411px;font-size:10.5px;line-height:12px;letter-spacing:0.128px;">abstract meanings onto more concrete and familiar meanings. <span class="sup">1-3</span></div>
<div class="t r" style="left:54.50px;top:429px;font-size:10.5px;line-height:12px;letter-spacing:0.126px;">Children learn the meaning of a novel word better in the space</div>
<div class="t r" style="left:54.50px;top:445px;font-size:10.5px;line-height:12px;letter-spacing:0.091px;">domain than in the sound domain. Once learned, the meaning can</div>
<div class="t r" style="left:54.50px;top:460px;font-size:10.5px;line-height:12px;letter-spacing:0.121px;">be extended to the other domain equally well. <span class="sup">3</span> However, space and</div>
<div class="t r" style="left:54.50px;top:476px;font-size:10.5px;line-height:12px;letter-spacing:0.152px;">sound do not rely on shared conceptual structures to the same</div>
<div class="t r" style="left:54.50px;top:491px;font-size:10.5px;line-height:12px;letter-spacing:0.100px;">extent as space and time. <span class="sup">4</span></div>
<div class="t r" style="left:54.50px;top:510px;font-size:10.5px;line-height:12px;letter-spacing:0.130px;">If word meanings are grounded in perceptual processes, children</div>
<div class="t r" style="left:54.50px;top:525px;font-size:10.5px;line-height:12px;letter-spacing:0.141px;">might learn an abstract meaning in the time domain when they</div>
<div class="t r" style="left:54.50px;top:541px;font-size:10.5px;line-height:12px;letter-spacing:0.158px;">perceive duration with higher acuity (i.e., through audition). <span class="sup">5,6</span></div>
<div class="t r" style="left:54.50px;top:559px;font-size:10.5px;line-height:12px;letter-spacing:0.199px;">Here, we investigated word learning of space-to-time metaphors</div>
<div class="t r" style="left:54.50px;top:575px;font-size:10.5px;line-height:12px;letter-spacing:0.165px;">from direct perceptual experience of spatial and temporal</div>
<div class="t r" style="left:54.50px;top:590px;font-size:10.5px;line-height:12px;letter-spacing:0.140px;">magnitude (i.e., length and duration).</div>
<div class="t" style="left:38.60px;top:619px;font-size:15.8px;line-height:17px;font-weight:700;color:#5f3c90;letter-spacing:0.149px;">Method</div>
<div class="t r" style="left:54.50px;top:646px;font-size:10.5px;line-height:12px;letter-spacing:0.099px;">Turkish speaking adults&nbsp; (<i>n</i>=80,</div>
<div class="t r" style="left:54.50px;top:662px;font-size:10.5px;line-height:12px;letter-spacing:0.199px;"><i>M</i><span class="sub">age</span>=22.32 years) and 4- to 5-</div>
<div class="t" style="left:367.10px;top:618px;font-size:10.4px;line-height:11px;font-weight:700;transform:scaleX(0.9421);transform-origin:0 0;">Space to Time</div>
<div class="t" style="left:628.10px;top:618px;font-size:10.4px;line-height:11px;font-weight:700;transform:scaleX(0.9236);transform-origin:0 0;">Time to Space</div>
<div class="t r" style="left:295.10px;top:640px;font-size:8.7px;line-height:10px;transform:scaleX(0.9347);transform-origin:0 0;">Word Training</div>
<div class="t r" style="left:295.10px;top:651px;font-size:8.7px;line-height:10px;transform:scaleX(0.9625);transform-origin:0 0;">(2 trials)</div>
<div class="t r" style="left:369.40px;top:640px;font-size:8.7px;line-height:10px;transform:scaleX(0.9256);transform-origin:0 0;">Word Learning</div>
<div class="t r" style="left:369.40px;top:651px;font-size:8.7px;line-height:10px;transform:scaleX(0.9689);transform-origin:0 0;">(4 trials)</div>
<div class="t r" style="left:444.10px;top:640px;font-size:8.7px;line-height:10px;transform:scaleX(0.9416);transform-origin:0 0;">Word Extension</div>
<div class="t r" style="left:444.10px;top:651px;font-size:8.7px;line-height:10px;transform:scaleX(0.9689);transform-origin:0 0;">(4 trials)</div>
<div class="t r" style="left:554.80px;top:640px;font-size:8.7px;line-height:10px;transform:scaleX(0.9347);transform-origin:0 0;">Word Training</div>
<div class="t r" style="left:554.80px;top:651px;font-size:8.7px;line-height:10px;transform:scaleX(0.9625);transform-origin:0 0;">(2 trials)</div>
<div class="t r" style="left:629.10px;top:640px;font-size:8.7px;line-height:10px;transform:scaleX(0.9256);transform-origin:0 0;">Word Learning</div>
<div class="t r" style="left:629.10px;top:651px;font-size:8.7px;line-height:10px;transform:scaleX(0.9689);transform-origin:0 0;">(4 trials)</div>
<div class="t r" style="left:703.80px;top:640px;font-size:8.7px;line-height:10px;transform:scaleX(0.9416);transform-origin:0 0;">Word Extension</div>
<div class="t r" style="left:703.80px;top:651px;font-size:8.7px;line-height:10px;transform:scaleX(0.9689);transform-origin:0 0;">(4 trials)</div>
<div class="t" style="left:274.50px;top:672px;font-size:9px;line-height:10px;font-weight:700;letter-spacing:-0.016px;">1)</div>
<div class="t" style="left:535.00px;top:672px;font-size:9px;line-height:10px;font-weight:700;letter-spacing:-0.016px;">2)</div>
<div class="t" style="left:421.90px;top:301px;font-size:15.4px;line-height:17px;font-weight:700;color:#5f3c90;letter-spacing:-0.202px;">Results</div>
<div class="t" style="left:422.00px;top:326px;font-size:12.3px;line-height:14px;font-weight:700;color:#4a4e92;letter-spacing:0.204px;">Word Learning</div>
<div class="t r" style="left:439.00px;top:343px;font-size:10.5px;line-height:12px;letter-spacing:0.118px;">Children were more accurate in the space domain than auditory (<i>p</i> &lt;</div>
<div class="t r" style="left:439.00px;top:359px;font-size:10.5px;line-height:12px;letter-spacing:0.041px;">.001) and visual time (<i>p</i> &lt; .001).</div>
<div class="t r" style="left:439.00px;top:377px;font-size:10.5px;line-height:12px;letter-spacing:0.145px;">Adults were equally accurate in the space domain compared to</div>
<div class="t r" style="left:439.00px;top:393px;font-size:10.5px;line-height:12px;letter-spacing:0.133px;">auditory time (<i>p</i> = .866) and visual time (<i>p</i> = .901); however, they were</div>
<div class="t r" style="left:439.00px;top:408px;font-size:10.5px;line-height:12px;letter-spacing:0.117px;">more accurate in visual time than auditory time (<i>p</i> &lt; .001).</div>
<div class="t" style="left:805.00px;top:324px;font-size:12.3px;line-height:14px;font-weight:700;color:#4a4e92;letter-spacing:0.202px;">Word Extension</div>
<div class="t r" style="left:820.70px;top:343px;font-size:10.5px;line-height:12px;letter-spacing:0.135px;">For children, there was no difference across directions or modalities.</div>
<div class="t r" style="left:820.70px;top:362px;font-size:10.5px;line-height:12px;letter-spacing:0.159px;">Adults were more accurate in extending the meaning in the time-to-</div>
<div class="t r" style="left:820.70px;top:377px;font-size:10.5px;line-height:12px;letter-spacing:0.156px;">space direction when the modality was visual than auditory (<i>p</i> = .013).</div>
<div class="t r" style="left:820.70px;top:393px;font-size:10.5px;line-height:12px;letter-spacing:0.136px;">However, this difference disappeared once the analysis was repeated</div>
<div class="t r" style="left:820.70px;top:408px;font-size:10.5px;line-height:12px;letter-spacing:0.175px;">after excluding participants that failed in word learning.</div>
<div class="t" style="left:812.70px;top:621px;font-size:11.6px;line-height:13px;font-weight:700;color:#fff;letter-spacing:-0.217px;">Adults learned the temporal meaning better from the visual than</div>
<div class="t" style="left:812.70px;top:637px;font-size:11.6px;line-height:13px;font-weight:700;color:#fff;letter-spacing:-0.212px;">the auditory modality. Once they learned the temporal meaning,</div>
<div class="t" style="left:812.70px;top:654px;font-size:11.6px;line-height:13px;font-weight:700;color:#fff;letter-spacing:-0.252px;">they could extend it to the space domain as easily, regardless of</div>
<div class="t" style="left:812.70px;top:671px;font-size:11.6px;line-height:13px;font-weight:700;color:#fff;letter-spacing:-0.360px;">the modality, suggesting a facilitative role of polysemy in</div>
</div>
</body></html>
